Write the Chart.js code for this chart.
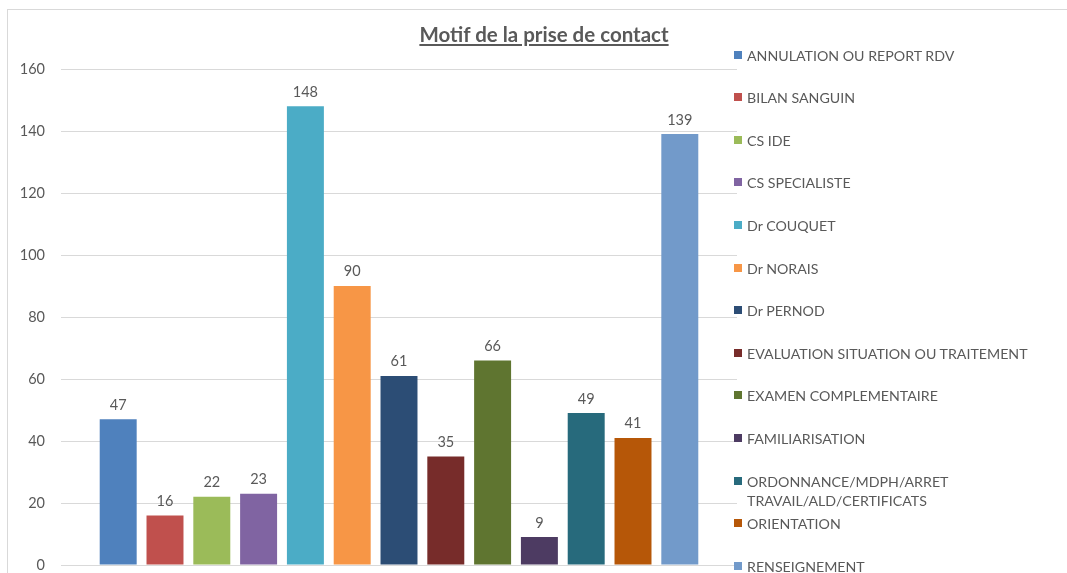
<!DOCTYPE html>
<html>
<head>
<meta charset="utf-8">
<script src="https://cdn.jsdelivr.net/npm/chart.js@4/dist/chart.umd.min.js"></script>
<style>
  html, body { margin: 0; padding: 0; background: #fff; }
  #wrap { position: relative; width: 1067px; height: 573px; overflow: hidden; }
  #frame { position: absolute; left: 7px; top: 9px; right: -2px; bottom: -2px;
           border-left: 1px solid #d9d9d9; border-top: 1px solid #d9d9d9; }
  #chart { position: absolute; left: 0; top: 0; }
  #title { position: absolute; top: 22px; left: 544px; transform: translateX(-50%);
           font: bold 20.5px Lato, "Liberation Sans", sans-serif; color: #595959;
           text-decoration: underline; white-space: nowrap; }
  .item { position: absolute; left: 734px; width: 310px;
          font: 14.2px Lato, "Liberation Sans", sans-serif; color: #595959; line-height: 19px; }
  .item i { position: absolute; left: 0; top: 5px; width: 8px; height: 8px; }
  .item span { display: block; margin-left: 13px; }
</style>
</head>
<body>
<div id="wrap">
  <div id="frame"></div>
  <canvas id="chart" width="1067" height="573"></canvas>
  <div id="title">Motif de la prise de contact</div>
  <div id="legend"></div>
</div>
<script>
// Data
const motifs = [
    'ANNULATION OU REPORT RDV',
    'BILAN SANGUIN',
    'CS IDE',
    'CS SPECIALISTE',
    'Dr COUQUET',
    'Dr NORAIS',
    'Dr PERNOD',
    'EVALUATION SITUATION OU TRAITEMENT',
    'EXAMEN COMPLEMENTAIRE',
    'FAMILIARISATION',
    'ORDONNANCE/MDPH/ARRET TRAVAIL/ALD/CERTIFICATS',
    'ORIENTATION',
    'RENSEIGNEMENT'
];
const counts = [47, 16, 22, 23, 148, 90, 61, 35, 66, 9, 49, 41, 139];
const colors = [
    '#4F81BD', '#C0504D', '#9BBB59', '#8064A2', '#4BACC6', '#F79646', '#2C4D75',
    '#772C2A', '#5F7530', '#4D3B62', '#276A7C', '#B65708', '#729ACA'
];
const yTicks = [0, 20, 40, 60, 80, 100, 120, 140, 160];

// Value labels above the bars
const barLabels = {
    id: 'barLabels',
    afterDatasetsDraw(chart) {
        const ctx = chart.ctx;
        ctx.save();
        ctx.font = '14.5px Lato, "Liberation Sans", sans-serif';
        ctx.fillStyle = '#595959';
        ctx.textAlign = 'center';
        ctx.textBaseline = 'bottom';
        chart.data.datasets.forEach((ds, i) => {
            chart.getDatasetMeta(i).data.forEach((bar, j) => {
                ctx.fillText(ds.data[j], bar.x, bar.y - 7);
            });
        });
        ctx.restore();
    }
};

new Chart(document.getElementById('chart'), {
    type: 'bar',
    data: {
        labels: [''],
        datasets: motifs.map((m, i) => ({
            label: m,
            data: [counts[i]],
            backgroundColor: colors[i],
            categoryPercentage: 0.9,
            barPercentage: 0.79
        }))
    },
    options: {
        responsive: false,
        animation: false,
        layout: { padding: { top: 69, right: 330, bottom: 8, left: 0 } },
        plugins: { legend: { display: false }, tooltip: { enabled: false } },
        scales: {
            x: { display: false },
            y: {
                min: 0,
                max: 160,
                afterFit(scale) { scale.width = 61; },
                afterBuildTicks(scale) { scale.ticks = yTicks.map(v => ({ value: v })); },
                border: { display: false },
                grid: { color: '#d9d9d9', lineWidth: 1, drawTicks: true, tickLength: 16, tickColor: 'rgba(0,0,0,0)' },
                ticks: {
                    padding: 0,
                    color: '#595959',
                    font: { family: 'Lato, "Liberation Sans", sans-serif', size: 14.5, lineHeight: 1 }
                }
            }
        }
    },
    plugins: [barLabels]
});

// Legend as text on the right
const legend = document.getElementById('legend');
motifs.forEach((m, i) => {
    const item = document.createElement('div');
    item.className = 'item';
    item.style.top = (55 + i * 42.6 - 9.5) + 'px';
    item.innerHTML = '<i style="background:' + colors[i] + '"></i><span>' + m + '</span>';
    legend.appendChild(item);
});
</script>
</body>
</html>
